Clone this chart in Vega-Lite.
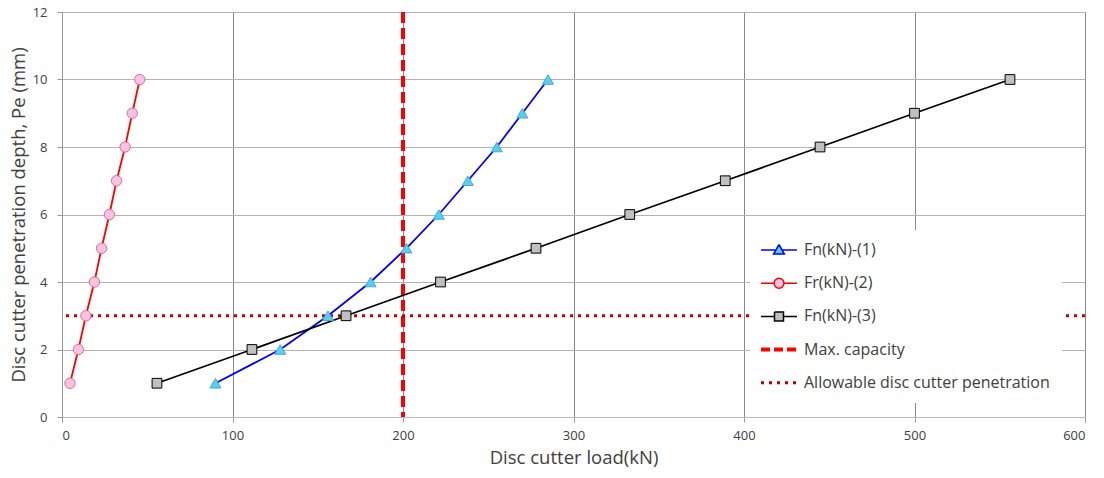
{
  "$schema": "https://vega.github.io/schema/vega-lite/v6.json",
  "width": 1023,
  "height": 405,
  "autosize": "none",
  "padding": {"left": 62, "top": 12, "right": 19, "bottom": 61},
  "background": "white",
  "config": {
    "font": "Open Sans",
    "view": {"stroke": "#808080", "strokeWidth": 1}
  },
  "datasets": {
    "series": [
      {"series": "Fn(kN)-(1)", "load": 90, "depth": 1},
      {"series": "Fn(kN)-(1)", "load": 128, "depth": 2},
      {"series": "Fn(kN)-(1)", "load": 156, "depth": 3},
      {"series": "Fn(kN)-(1)", "load": 181, "depth": 4},
      {"series": "Fn(kN)-(1)", "load": 202, "depth": 5},
      {"series": "Fn(kN)-(1)", "load": 221, "depth": 6},
      {"series": "Fn(kN)-(1)", "load": 238, "depth": 7},
      {"series": "Fn(kN)-(1)", "load": 255, "depth": 8},
      {"series": "Fn(kN)-(1)", "load": 270, "depth": 9},
      {"series": "Fn(kN)-(1)", "load": 285, "depth": 10},
      {"series": "Fr(kN)-(2)", "load": 4.7, "depth": 1},
      {"series": "Fr(kN)-(2)", "load": 9.6, "depth": 2},
      {"series": "Fr(kN)-(2)", "load": 14, "depth": 3},
      {"series": "Fr(kN)-(2)", "load": 19, "depth": 4},
      {"series": "Fr(kN)-(2)", "load": 23.2, "depth": 5},
      {"series": "Fr(kN)-(2)", "load": 27.8, "depth": 6},
      {"series": "Fr(kN)-(2)", "load": 32, "depth": 7},
      {"series": "Fr(kN)-(2)", "load": 37, "depth": 8},
      {"series": "Fr(kN)-(2)", "load": 41.2, "depth": 9},
      {"series": "Fr(kN)-(2)", "load": 45.6, "depth": 10},
      {"series": "Fn(kN)-(3)", "load": 55.7, "depth": 1},
      {"series": "Fn(kN)-(3)", "load": 111.4, "depth": 2},
      {"series": "Fn(kN)-(3)", "load": 166.6, "depth": 3},
      {"series": "Fn(kN)-(3)", "load": 222, "depth": 4},
      {"series": "Fn(kN)-(3)", "load": 278, "depth": 5},
      {"series": "Fn(kN)-(3)", "load": 333, "depth": 6},
      {"series": "Fn(kN)-(3)", "load": 389, "depth": 7},
      {"series": "Fn(kN)-(3)", "load": 444.6, "depth": 8},
      {"series": "Fn(kN)-(3)", "load": 500, "depth": 9},
      {"series": "Fn(kN)-(3)", "load": 556, "depth": 10}
    ],
    "maxcap": [{"series": "Max. capacity", "load": 200}],
    "allow": [{"series": "Allowable disc cutter penetration", "depth": 3}]
  },
  "layer": [
    {
      "data": {"name": "maxcap"},
      "mark": {"type": "rule", "strokeWidth": 4, "strokeDash": [11, 5]},
      "encoding": {
        "x": {
          "field": "load", "type": "quantitative",
          "scale": {"domain": [0, 600], "nice": false},
          "axis": {
            "values": [0, 100, 200, 300, 400, 500, 600],
            "title": "Disc cutter load(kN)",
            "grid": true, "gridColor": "#888888", "gridWidth": 1,
            "domainColor": "#bbbbbb", "tickColor": "#999999", "tickSize": 5,
            "labelFontSize": 13, "labelColor": "#404040", "labelPadding": 7,
            "titleFontSize": 18.5, "titleFontWeight": "normal", "titleColor": "#404040", "titlePadding": 6
          }
        },
        "color": {
          "field": "series", "type": "nominal",
          "scale": {
            "domain": ["Fn(kN)-(1)", "Fr(kN)-(2)", "Fn(kN)-(3)", "Max. capacity", "Allowable disc cutter penetration"],
            "range": ["#0000ff", "#ff0000", "#000000", "#ff0000", "#c00000"]
          },
          "legend": {
            "title": null,
            "orient": "none",
            "legendX": 688,
            "legendY": 218,
            "fillColor": "white",
            "padding": 12,
            "gridAlign": "all",
            "symbolSize": 324,
            "symbolOffset": 9,
            "labelOffset": 17,
            "labelLimit": 400,
            "rowPadding": 17.2,
            "labelFontSize": 16,
            "labelColor": "#404040",
            "encode": {
              "symbols": {
                "update": {
                  "shape": {"signal": "datum.value === 'Fn(kN)-(1)' ? 'M-2,0H-0.34M0.34,0H2M0,-0.6L0.6,0.45L-0.6,0.45Z' : datum.value === 'Fr(kN)-(2)' ? 'M-2,0H-0.55M0.55,0H2M0.55,0A0.55,0.55,0,1,1,-0.55,0A0.55,0.55,0,1,1,0.55,0Z' : datum.value === 'Fn(kN)-(3)' ? 'M-2,0H-0.5M0.5,0H2M-0.5,-0.5H0.5V0.5H-0.5Z' : 'M-2,0H2'"},
                  "fill": {"signal": "datum.value === 'Fn(kN)-(1)' ? '#55d0f0' : datum.value === 'Fr(kN)-(2)' ? '#fbc2e4' : datum.value === 'Fn(kN)-(3)' ? '#c0c0c0' : 'transparent'"},
                  "stroke": {"signal": "datum.value === 'Fn(kN)-(1)' ? '#0000ff' : datum.value === 'Fr(kN)-(2)' ? '#ff0000' : datum.value === 'Fn(kN)-(3)' ? '#000000' : datum.value === 'Max. capacity' ? '#ff0000' : '#c00000'"},
                  "strokeWidth": {"signal": "datum.value === 'Max. capacity' ? 4 : datum.value === 'Allowable disc cutter penetration' ? 3 : 1.5"},
                  "strokeDash": {"signal": "datum.value === 'Max. capacity' ? [9, 4] : datum.value === 'Allowable disc cutter penetration' ? [3, 5] : [1000, 0]"},
                  "opacity": {"value": 1}
                }
              }
            }
          }
        }
      }
    },
    {
      "data": {"name": "allow"},
      "mark": {"type": "rule", "strokeWidth": 3, "strokeDash": [3, 5]},
      "encoding": {
        "y": {
          "field": "depth", "type": "quantitative",
          "scale": {"domain": [0, 12], "nice": false},
          "axis": {
            "values": [0, 2, 4, 6, 8, 10, 12],
            "title": "Disc cutter penetration depth, Pe (mm)",
            "grid": true, "gridColor": "#b3b3b3", "gridWidth": 1,
            "domainColor": "#999999", "tickColor": "#999999", "tickSize": 5,
            "labelFontSize": 13, "labelColor": "#404040", "labelPadding": 10,
            "titleFontSize": 18.5, "titleFontWeight": "normal", "titleColor": "#404040", "titlePadding": 4
          }
        },
        "color": {"field": "series", "type": "nominal"}
      }
    },
    {
      "data": {"name": "series"},
      "mark": {"type": "line", "strokeWidth": 1.8},
      "encoding": {
        "x": {"field": "load", "type": "quantitative"},
        "y": {"field": "depth", "type": "quantitative"},
        "color": {"field": "series", "type": "nominal"},
        "order": {"field": "depth"}
      }
    },
    {
      "data": {"name": "series"},
      "mark": {"type": "point", "filled": false, "opacity": 1, "strokeWidth": 1},
      "encoding": {
        "x": {"field": "load", "type": "quantitative"},
        "y": {"field": "depth", "type": "quantitative"},
        "shape": {
          "field": "series", "type": "nominal",
          "scale": {"domain": ["Fn(kN)-(1)", "Fr(kN)-(2)", "Fn(kN)-(3)"], "range": ["triangle-up", "circle", "square"]},
          "legend": null
        },
        "fill": {
          "field": "series", "type": "nominal",
          "scale": {"domain": ["Fn(kN)-(1)", "Fr(kN)-(2)", "Fn(kN)-(3)"], "range": ["#55d0f0", "#fbc2e4", "#c0c0c0"]},
          "legend": null
        },
        "stroke": {
          "field": "series", "type": "nominal",
          "scale": {"domain": ["Fn(kN)-(1)", "Fr(kN)-(2)", "Fn(kN)-(3)"], "range": ["#45a8d8", "#d8708c", "#000000"]},
          "legend": null
        },
        "size": {
          "field": "series", "type": "nominal",
          "scale": {"domain": ["Fn(kN)-(1)", "Fr(kN)-(2)", "Fn(kN)-(3)"], "range": [121, 95, 100]},
          "legend": null
        }
      }
    }
  ]
}
